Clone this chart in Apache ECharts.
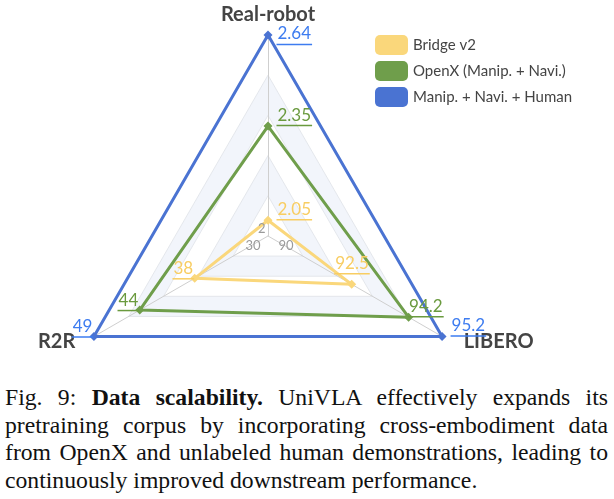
<!DOCTYPE html>
<html lang="en">
<head>
    <meta charset="UTF-8">
    <title>Data scalability radar</title>
    <script src="https://cdn.jsdelivr.net/npm/echarts@6/dist/echarts.min.js"></script>
    <style>
        body { margin: 0; background: #fff; }
        #chart { width: 614px; height: 375px; }
        #caption {
            position: absolute;
            left: 5px;
            top: 384px;
            width: 603px;
            font-family: 'Liberation Serif', serif;
            font-size: 23.7px;
            line-height: 27.5px;
            text-align: justify;
            color: #111;
        }
    </style>
</head>
<body>
    <div id="chart"></div>
    <div id="caption">Fig. 9: <b>Data scalability.</b> UniVLA effectively expands its pretraining corpus by incorporating cross-embodiment data from OpenX and unlabeled human demonstrations, leading to continuously improved downstream performance.</div>

    <script>
        // axes (top, bottom-left, bottom-right)
        const indicators = ['Real-robot', 'R2R', 'LIBERO'];
        const axisMin = [2, 30, 90];
        const axisMax = [2.64, 49, 95.2];

        const names = ['Bridge v2', 'OpenX (Manip. + Navi.)', 'Manip. + Navi. + Human'];
        const bridge = [2.05, 38, 92.5];
        const openx = [2.35, 44, 94.2];
        const human = [2.64, 49, 95.2];
        const rows = [bridge, openx, human];

        const lineColors = ['#fad77b', '#6f9e4b', '#4a73d2'];
        const labelColors = ['#f8cd62', '#6a9a3e', '#3d7cf0'];

        // where each value label sits around its point
        const places = {
            A: { position: [9, 1], align: 'left', verticalAlign: 'bottom' },
            H: { position: [9, 11], align: 'left', verticalAlign: 'bottom' },
            B: { position: [0, 2], align: 'right', verticalAlign: 'bottom' },
            C: { position: [-17, -9], align: 'left', verticalAlign: 'bottom' },
            D: { position: [0, 1], align: 'left', verticalAlign: 'bottom' }
        };
        const labelPlace = [['A', 'B', 'C'], ['A', 'B', 'D'], ['H', 'B', 'A']];

        // min labels at the centre, one spot per axis
        const minPlaces = [
            { position: [-2, 0], align: 'right', verticalAlign: 'bottom' },
            { position: [-7, 3], align: 'right', verticalAlign: 'top' },
            { position: [11, 3], align: 'left', verticalAlign: 'top' }
        ];

        const chart = echarts.init(document.getElementById('chart'));

        const mainSeries = rows.map((row, i) => ({
            name: names[i],
            type: 'radar',
            z: 2 + i,
            symbol: 'diamond',
            symbolSize: 9,
            itemStyle: { color: lineColors[i] },
            lineStyle: { width: 3, color: lineColors[i] },
            data: [{ value: row, name: names[i] }]
        }));

        function labelItem(row, dims, place, rich, withLine) {
            return {
                value: row,
                symbol: 'circle',
                symbolSize: 1,
                itemStyle: { color: 'rgba(0,0,0,0)' },
                lineStyle: { width: 0, opacity: 0 },
                label: Object.assign({
                    show: true,
                    formatter: p => {
                        const d = p.dimensionIndex != null ? p.dimensionIndex : row.indexOf(p.value);
                        if (!dims.includes(d)) return '';
                        return withLine ? '{v|' + row[d] + '}\n{u|}' : '{v|' + row[d] + '}';
                    },
                    rich: rich
                }, place)
            };
        }

        const labelData = [];
        rows.forEach((row, i) => {
            const rich = {
                v: { color: labelColors[i], fontSize: 17, fontFamily: 'Lato', lineHeight: 19, padding: [0, 1, 0, 1] },
                u: { width: '100%', height: 1.5, lineHeight: 2, backgroundColor: labelColors[i] }
            };
            Object.keys(places).forEach(key => {
                const dims = labelPlace[i].map((k, d) => k === key ? d : -1).filter(d => d >= 0);
                if (dims.length) labelData.push(labelItem(row, dims, places[key], rich, true));
            });
        });
        const minRich = { v: { color: '#9a9a9a', fontSize: 13, fontFamily: 'Lato', lineHeight: 14 } };
        minPlaces.forEach((place, d) => {
            labelData.push(labelItem(axisMin, [d], place, minRich, false));
        });

        const nameStyle = { color: '#444', fontSize: 20, fontWeight: 'bold', fontFamily: 'Lato' };

        chart.setOption({
            animation: false,
            legend: {
                data: names,
                orient: 'vertical',
                left: 370,
                top: 30,
                icon: 'roundRect',
                itemWidth: 33,
                itemHeight: 20,
                itemGap: 6,
                textStyle: { fontFamily: 'Lato', fontSize: 15, color: '#444' }
            },
            radar: {
                center: [268, 236],
                radius: 201,
                startAngle: 90,
                splitNumber: 5,
                indicator: indicators.map((n, i) => ({ name: n, min: axisMin[i], max: axisMax[i] })),
                axisName: Object.assign({
                    formatter: n => n === 'R2R' ? '{l|' + n + '}' : n === 'LIBERO' ? '{r|' + n + '}' : n,
                    rich: {
                        l: Object.assign({ padding: [0, 10, 0, 0] }, nameStyle),
                        r: Object.assign({ padding: [0, 0, 0, 13] }, nameStyle)
                    }
                }, nameStyle),
                nameGap: 10,
                axisLine: { lineStyle: { color: '#cfcfcf', width: 1 } },
                splitLine: { lineStyle: { color: '#e4e7ec', width: 1 } },
                splitArea: { areaStyle: { color: ['#ffffff', '#f2f5fb'] } },
                axisTick: { show: false },
                axisLabel: { show: false }
            },
            series: mainSeries.concat([{
                name: 'labels',
                type: 'radar',
                z: 10,
                silent: true,
                data: labelData
            }])
        });
    </script>
</body>
</html>
